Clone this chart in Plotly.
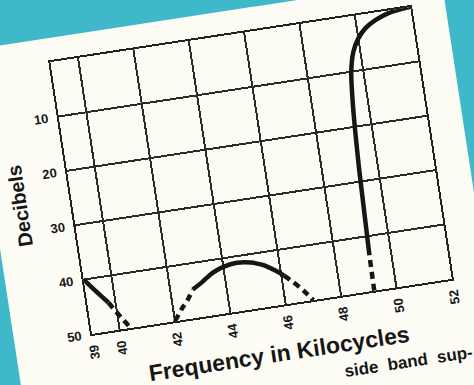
import plotly.graph_objects as go

# Filter attenuation (dB) against frequency (kc); each branch is split where
# the drawn line changes between solid and dashed.
low_f = [39.0, 39.35, 39.75]
low_db = [40.0, 42.3, 44.8]
low_tail_f = [39.75, 40.05, 40.4]
low_tail_db = [44.8, 47.3, 50.0]

hump_rise_f = [42.0, 42.3, 42.55, 42.8]
hump_rise_db = [50.0, 48.0, 46.6, 44.8]
hump_f = [42.8, 43.2, 43.6, 44.0, 44.5, 45.0, 45.4, 45.8, 46.1]
hump_db = [44.8, 43.6, 42.3, 41.55, 41.2, 41.55, 42.3, 43.6, 44.8]
hump_fall_f = [46.1, 46.4, 46.7, 47.0]
hump_fall_db = [44.8, 46.3, 48.0, 50.0]

upper_tail_f = [49.2, 49.22]
upper_tail_db = [50.0, 43.5]
upper_f = [49.22, 49.32, 49.45, 49.57, 49.75, 50.0, 50.3, 50.7, 51.2, 51.7, 52.0]
upper_db = [43.5, 28.0, 16.0, 10.0, 6.5, 4.2, 2.6, 1.4, 0.5, 0.1, 0.0]

freq_ticks = [39, 40, 42, 44, 46, 48, 50, 52]
db_ticks = [10, 20, 30, 40, 50]

INK = "#161616"
PAPER = "#fcfcf4"
BACKDROP = "#3fb9c9"
FONT = "Liberation Sans, Arial, sans-serif"

segments = [
    (low_f, low_db, "solid"),
    (low_tail_f, low_tail_db, "7px,5px"),
    (hump_rise_f, hump_rise_db, "7px,5px"),
    (hump_f, hump_db, "solid"),
    (hump_fall_f, hump_fall_db, "7px,5px"),
    (upper_tail_f, upper_tail_db, "7px,5px"),
    (upper_f, upper_db, "solid"),
]

fig = go.Figure()
for f, db, dash in segments:
    fig.add_trace(go.Scatter(
        x=f, y=db, mode="lines", cliponaxis=False, showlegend=False,
        line=dict(color=INK, width=4.5, dash=dash, shape="spline", smoothing=0.6),
        hoverinfo="skip",
    ))

axis_common = dict(
    showgrid=True, gridcolor="#2b2b2b", gridwidth=1.5,
    showline=True, linecolor="#222222", linewidth=1.8, mirror=True,
    zeroline=False, ticks="",
    tickfont=dict(family=FONT, size=13, color=INK, weight="bold"),
)

fig.update_layout(
    width=477, height=480,
    margin=dict(l=78, r=35, t=24, b=181, autoexpand=False),
    paper_bgcolor=PAPER, plot_bgcolor=PAPER,
    font=dict(family=FONT, color=INK),
    xaxis=dict(
        range=[39, 52], tickmode="array", tickvals=freq_ticks,
        ticktext=[str(v) for v in freq_ticks], tickangle=-90,
        ticklabelstandoff=4,
        title=dict(text="Frequency in Kilocycles", standoff=15,
                   font=dict(family=FONT, size=23, color=INK, weight="bold")),
        **axis_common,
    ),
    yaxis=dict(
        range=[50, 0], tickmode="array", tickvals=db_ticks,
        ticktext=[str(v) for v in db_ticks],
        ticklabelstandoff=6,
        title=dict(text="Decibels", standoff=14,
                   font=dict(family=FONT, size=20, color=INK, weight="bold")),
        **axis_common,
    ),
    annotations=[dict(
        text="side\u00a0\u00a0band\u00a0\u00a0sup-", xref="paper", yref="paper",
        x=1.03, y=-0.275, xanchor="right", yanchor="middle", showarrow=False,
        font=dict(family=FONT, size=17, color=INK, weight="bold"),
    )],
)

# The printed page sits tilted on a cyan backdrop.
page_js = """
var gd = document.getElementById('{plot_id}');
document.documentElement.style.background = '%s';
document.body.style.margin = '0';
document.body.style.background = '%s';
document.body.style.overflow = 'hidden';
gd.style.position = 'absolute';
gd.style.left = '-9px';
gd.style.top = '9px';
gd.style.transformOrigin = '260px 161px';
gd.style.transform = 'rotate(-8.7deg)';
""" % (BACKDROP, BACKDROP)

fig.write_html("out.html", post_script=page_js, config={"displayModeBar": False})
